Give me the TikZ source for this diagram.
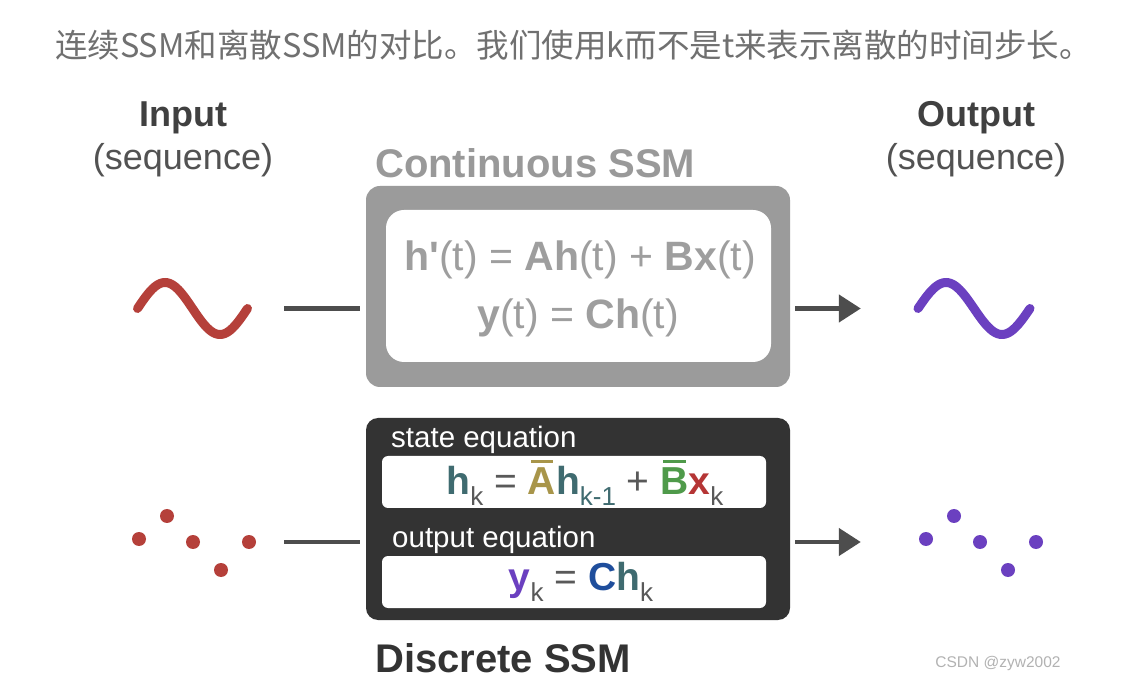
\documentclass[tikz,border=0pt]{standalone}
\usepackage{fontspec}
\setmainfont{Liberation Sans}
\newfontfamily\cjk{Noto Sans CJK SC}
\usetikzlibrary{arrows.meta,positioning}

\definecolor{sigred}{HTML}{B5403A}
\definecolor{sigpurple}{HTML}{6B40C0}
\definecolor{linkgray}{HTML}{4D4D4D}
\definecolor{contgray}{HTML}{9B9B9B}
\definecolor{discdark}{HTML}{333333}
\definecolor{hteal}{HTML}{3F6B70}
\definecolor{abargold}{HTML}{A8954A}
\definecolor{bbargreen}{HTML}{4F9A4A}
\definecolor{xred}{HTML}{B53535}
\definecolor{cblue}{HTML}{1F4E9C}
\definecolor{subgray}{HTML}{7A7A7A}

\newcommand\fsz[1]{\fontsize{#1}{#1}\selectfont}
\newcommand\sbk[1]{\raisebox{-0.3em}{\fsz{26}#1}}
\newcommand\ovbar[1]{\leavevmode\setbox0\hbox{#1}\rlap{\hbox to\wd0{\hss\rule[0.8em]{0.8\wd0}{0.075em}\hss}}\box0}

\begin{document}
\begin{tikzpicture}[x=1pt, y=-1pt, inner sep=0pt,
	titletext/.style={font=\cjk\fsz{32.5}, text=black!56},
	headtext/.style={font=\bfseries\fsz{36}, text=black!75},
	subtext/.style={font=\fsz{36}, text=black!68},
	contbox/.style={fill=contgray, rounded corners=14pt, minimum width=424pt, minimum height=201pt},
	contpanel/.style={fill=white, rounded corners=18pt, minimum width=385pt, minimum height=152pt},
	conteq/.style={font=\fsz{41}, text=black!38},
	contlabel/.style={font=\bfseries\fsz{40}, text=black!40},
	discbox/.style={fill=discdark, rounded corners=12pt, minimum width=424pt, minimum height=202pt},
	slotpanel/.style={fill=white, rounded corners=6pt, minimum width=384pt, minimum height=52pt},
	eqlabel/.style={font=\fsz{29.5}, text=white},
	disceq/.style={font=\fsz{39}, text=black!65},
	discname/.style={font=\bfseries\fsz{40}, text=discdark},
	wmtext/.style={font=\fsz{15.5}, text=black!30},
	slot/.style={minimum width=130pt, minimum height=70pt},
	link/.style={draw=linkgray, line width=4.5pt},
	flow/.style={link, -{Triangle[length=22pt,width=27pt]}},
	wave/.style={line width=9pt, line cap=round}]

	\fill[white] (0,0) rectangle (1144,700);
	\useasboundingbox (0,0) rectangle (1144,700);

	\node[titletext] (title) at (573.5,45) {连续SSM和离散SSM的对比。我们使用k而不是t来表示离散的时间步长。};

	\node[headtext] (inhead) at (183,118) {Input};
	\node[subtext] (inseq) at (183,160) {(sequence)};
	\node[headtext] (outhead) at (976,118) {Output};
	\node[subtext] (outseq) at (976,160) {(sequence)};

	\node[contlabel, anchor=west] (contname) at (375,163) {Continuous SSM};
	\node[contbox] (cont) at (578,286.5) {};
	\node[contpanel] (contin) at (578.5,286) {};
	\node[conteq] (ceq1) at (580,260) {\textbf{h\textquotesingle}(t) = \textbf{Ah}(t) + \textbf{Bx}(t)};
	\node[conteq] (ceq2) at (578,318) {\textbf{y}(t) = \textbf{Ch}(t)};

	\node[discbox] (disc) at (578,519) {};
	\node[eqlabel, anchor=west] (statelab) at (391,440) {state equation};
	\node[slotpanel] (statepanel) at (574,482) {};
	\node[disceq] (deq1) at (585,483) {\textcolor{hteal}{\textbf{h}}\sbk{k} = \textcolor{abargold}{\ovbar{\textbf{A}}}\textcolor{hteal}{\textbf{h}\sbk{k-1}} + \textcolor{bbargreen}{\ovbar{\textbf{B}}}\textcolor{xred}{\textbf{x}}\sbk{k}};
	\node[eqlabel, anchor=west] (outlab) at (392,540) {output equation};
	\node[slotpanel] (outpanel) at (574,582) {};
	\node[disceq] (deq2) at (581,582) {\textcolor{sigpurple}{\textbf{y}}\sbk{k} = \textcolor{cblue}{\textbf{C}}\textcolor{hteal}{\textbf{h}}\sbk{k}};
	\node[discname, anchor=west] (discname) at (375,658) {Discrete SSM};

	\node[slot] (inwave) at (192.5,308.5) {};
	\node[slot] (outwave) at (974,308.5) {};
	\node[slot] (indots) at (194,542) {};
	\node[slot] (outdots) at (981,542) {};

	\begin{scope}[shift={(inwave.center)}]
		\draw[wave, sigred] plot[domain=-55:55, samples=60, smooth] (\x, {-26*sin((\x+55)/110*360)});
	\end{scope}
	\begin{scope}[shift={(outwave.center)}]
		\draw[wave, sigpurple] plot[domain=-56:56, samples=60, smooth] (\x, {-26*sin((\x+56)/112*360)});
	\end{scope}

	\foreach \dx/\dy in {-55/-3, -27/-26, -1/0, 27/28, 55/0} {
		\fill[sigred] ([shift={(\dx,\dy)}]indots.center) circle[radius=7pt];
		\fill[sigpurple] ([shift={(\dx,\dy)}]outdots.center) circle[radius=7pt];
	}

	\draw[link, shorten <=26.5pt, shorten >=6pt] (inwave.east) -- (inwave.east -| cont.west);
	\draw[flow, shorten <=5pt, shorten >=48pt] (cont.east |- outwave.west) -- (outwave.west);
	\draw[link, shorten <=25pt, shorten >=6pt] (indots.east) -- (indots.east -| disc.west);
	\draw[flow, shorten <=5pt, shorten >=55pt] (disc.east |- outdots.west) -- (outdots.west);

	\node[wmtext] (csdn) at (998,663) {CSDN @zyw2002};
\end{tikzpicture}
\end{document}
